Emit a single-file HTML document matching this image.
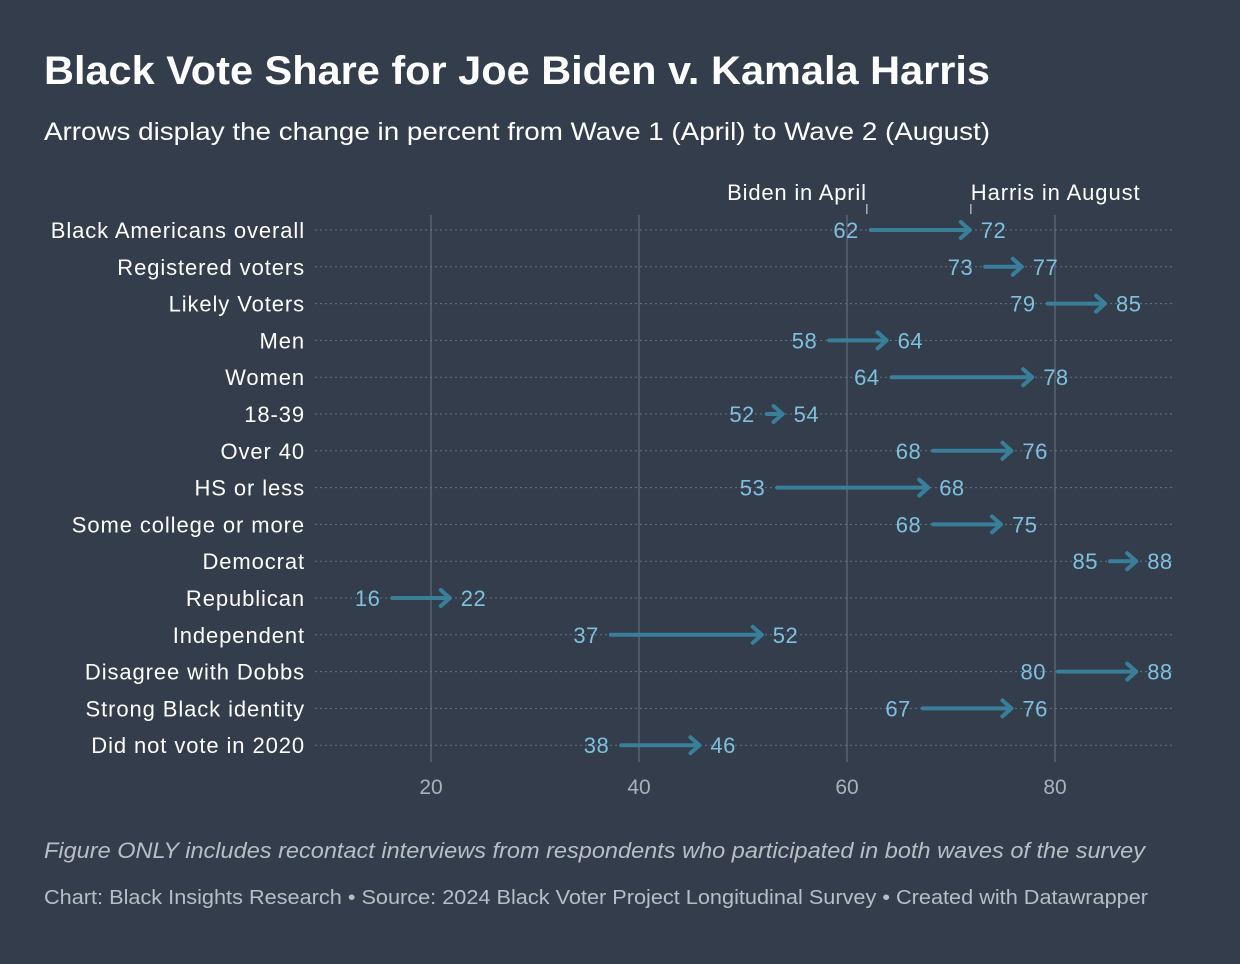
<!DOCTYPE html>
<html><head><meta charset="utf-8">
<style>
body{margin:0;width:1240px;height:964px;background:#333d4b;font-family:"Liberation Sans",Roboto,sans-serif;overflow:hidden}
svg{position:absolute;left:0;top:0}
</style></head>
<body>
<svg width="1240" height="964" id="chart">
<text x="44" y="84" fill="#ffffff" font-size="40" font-weight="bold" textLength="946" lengthAdjust="spacingAndGlyphs">Black Vote Share for Joe Biden v. Kamala Harris</text>
<text x="44" y="140" fill="#ffffff" font-size="25" textLength="946" lengthAdjust="spacingAndGlyphs">Arrows display the change in percent from Wave 1 (April) to Wave 2 (August)</text>
<text x="44" y="858" fill="#b8bec6" font-size="22" font-style="italic" textLength="1101" lengthAdjust="spacingAndGlyphs">Figure ONLY includes recontact interviews from respondents who participated in both waves of the survey</text>
<text x="44" y="904" fill="#b8bec6" font-size="20" textLength="1104" lengthAdjust="spacingAndGlyphs">Chart: Black Insights Research • Source: 2024 Black Voter Project Longitudinal Survey • Created with Datawrapper</text>
<g id="plot"></g>
</svg>
<script>
const categories=["Black Americans overall","Registered voters","Likely Voters","Men","Women","18-39","Over 40","HS or less","Some college or more","Democrat","Republican","Independent","Disagree with Dobbs","Strong Black identity","Did not vote in 2020"];
const aprilValues=[62,73,79,58,64,52,68,53,68,85,16,37,80,67,38];
const augustValues=[72,77,85,64,78,54,76,68,75,88,22,52,88,76,46];
const xTicks=[20,40,60,80];
const NS="http://www.w3.org/2000/svg";
const g=document.getElementById('plot');
const x=v=>431+(v-20)*10.4;
const y=i=>230+i*36.8;
function el(tag,attrs,parent){const e=document.createElementNS(NS,tag);for(const k in attrs)e.setAttribute(k,attrs[k]);(parent||g).appendChild(e);return e;}
xTicks.forEach(t=>{
  const l=el('line',{x1:x(t),x2:x(t),y1:215,y2:762,stroke:'#5a6370','stroke-width':1.5});
  
  
  const tx=el('text',{x:x(t),y:794,fill:'#aab1ba','font-size':21,'text-anchor':'middle'});
  tx.textContent=t;
  
  
});
categories.forEach((c,i)=>{
  const yy=y(i);
  const dl=el('line',{x1:315,x2:1175,y1:yy,y2:yy,stroke:'#6a7380','stroke-width':1,'stroke-dasharray':'2,3'});
  
  
  const lab=el('text',{x:305,y:yy+8,fill:'#ffffff','font-size':22,'text-anchor':'end','letter-spacing':'0.9'});
  lab.textContent=c;
  
  
  const a=aprilValues[i],b=augustValues[i];
  const x1=x(a)+3,x2=x(b);
  const ar=el('path',{d:`M${x1},${yy} L${x2-2},${yy} M${x2-11},${yy-8} L${x2-2},${yy} L${x2-11},${yy+8}`,stroke:'#3a7f9a','stroke-width':4,fill:'none','stroke-linecap':'round','stroke-linejoin':'round'});
  
  
  const t1=el('text',{x:x(a)-9,y:yy+8,fill:'#7fc0dc','font-size':22,'text-anchor':'end','letter-spacing':'0.5'});
  t1.textContent=a;
  
  
  const t2=el('text',{x:x(b)+9,y:yy+8,fill:'#7fc0dc','font-size':22,'letter-spacing':'0.5'});
  t2.textContent=b;
  
  
  if(i===0){
    const h1=el('text',{x:x(a)-1,y:200,fill:'#ffffff','font-size':22,'text-anchor':'end','letter-spacing':'0.8'});
    h1.textContent='Biden in April';
    
    
    const k1=el('line',{x1:x(a)-1,x2:x(a)-1,y1:204,y2:214,stroke:'#aab1ba','stroke-width':1.5});
    
    
    const h2=el('text',{x:x(b)-1,y:200,fill:'#ffffff','font-size':22,'letter-spacing':'0.9'});
    h2.textContent='Harris in August';
    
    
    const k2=el('line',{x1:x(b)-1,x2:x(b)-1,y1:204,y2:214,stroke:'#aab1ba','stroke-width':1.5});
    
    
  }
});
</script>
</body></html>
